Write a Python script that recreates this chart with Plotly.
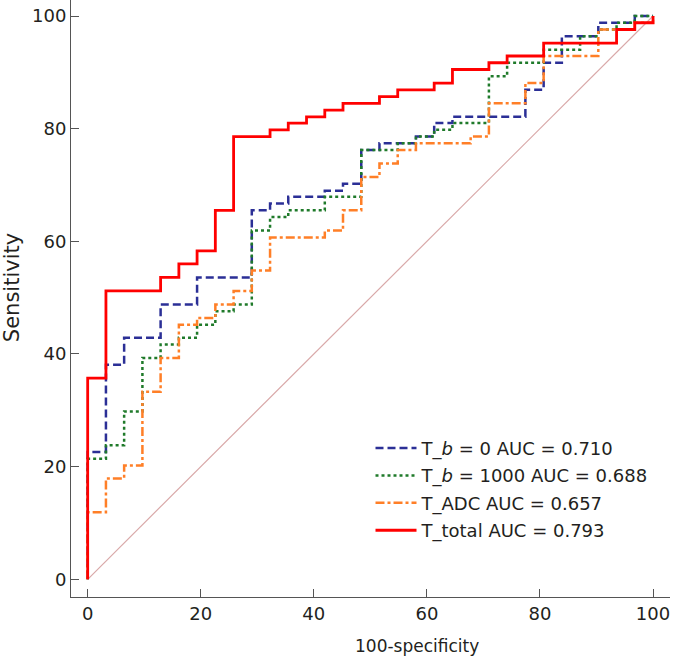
import plotly.graph_objects as go

# ---- data (100-specificity, sensitivity), step corners ----
fpr_b0 = [0, 0, 3.23, 6.45, 12.90, 19.35, 29.03, 32.26, 35.48, 41.94, 45.16, 48.39, 51.61,
          58.06, 61.29, 64.52, 77.42, 80.65, 83.87, 90.32, 96.77, 100]
tpr_b0 = [0, 22.6, 38.1, 42.9, 48.8, 53.6, 65.5, 66.7, 67.9, 69.0, 70.2, 76.2, 77.4,
          78.6, 81.0, 82.1, 86.9, 91.7, 96.4, 98.8, 100, 100]

fpr_b1000 = [0, 0, 3.23, 6.45, 9.68, 12.90, 16.13, 19.35, 22.58, 25.81, 29.03, 32.26, 35.48,
             41.94, 48.39, 54.84, 58.06, 61.29, 64.52, 70.97, 74.19, 80.65, 87.10, 90.32,
             93.55, 96.77, 100]
tpr_b1000 = [0, 21.4, 23.8, 29.8, 39.3, 41.7, 42.9, 45.2, 47.6, 48.8, 61.9, 64.3, 65.5,
             67.9, 76.2, 77.4, 78.6, 79.8, 81.0, 89.3, 91.7, 94.0, 96.4, 97.6,
             98.8, 100, 100]

fpr_adc = [0, 0, 3.23, 6.45, 9.68, 12.90, 16.13, 19.35, 22.58, 25.81, 29.03, 32.26, 41.94,
           45.16, 48.39, 51.61, 54.84, 58.06, 67.74, 70.97, 77.42, 80.65, 90.32, 96.77, 100]
tpr_adc = [0, 11.9, 17.9, 20.2, 33.3, 39.3, 45.2, 46.4, 48.8, 51.2, 54.8, 60.7, 61.9,
           65.5, 71.4, 73.8, 76.2, 77.4, 78.6, 84.5, 88.1, 92.9, 97.6, 98.8, 100]

fpr_total = [0, 0, 3.23, 12.90, 16.13, 19.35, 22.58, 25.81, 32.26, 35.48, 38.71, 41.94, 45.16,
             51.61, 54.84, 61.29, 64.52, 70.97, 74.19, 80.65, 93.55, 96.77, 100]
tpr_total = [0, 35.7, 51.2, 53.6, 56.0, 58.3, 65.5, 78.6, 79.8, 81.0, 82.1, 83.3, 84.5,
             85.7, 86.9, 88.1, 90.5, 91.7, 92.9, 95.2, 97.6, 98.8, 100]

diag = [0, 100]
tick_vals = [0, 20, 40, 60, 80, 100]

names = ["T_<i>b</i> = 0 AUC = 0.710", "T_<i>b</i> = 1000 AUC = 0.688",
         "T_ADC AUC = 0.657", "T_total AUC = 0.793"]
colors = ["#2b2f96", "#1f7a2a", "#ff7f27", "#ff0000"]
dashes = ["8px,4px", "dot", "dashdot", "solid"]
widths = [2.5, 2.5, 2.5, 2.8]
xs = [fpr_b0, fpr_b1000, fpr_adc, fpr_total]
ys = [tpr_b0, tpr_b1000, tpr_adc, tpr_total]

FONT = "DejaVu Sans"
TXT = "#231f20"

fig = go.Figure()
fig.add_trace(go.Scatter(x=diag, y=diag, mode="lines", showlegend=False,
                         line=dict(color="#d9a9a9", width=1.2), hoverinfo="skip"))
for i in range(4):
    fig.add_trace(go.Scatter(x=xs[i], y=ys[i], mode="lines", name=names[i],
                             line=dict(color=colors[i], width=widths[i], dash=dashes[i], shape="hv"),
                             legendgroup=f"g{i}"))

fig.update_layout(
    width=685, height=660,
    margin=dict(l=71, r=15, t=0, b=63, autoexpand=False),
    paper_bgcolor="white", plot_bgcolor="white",
    font=dict(family=FONT, size=17, color=TXT),
    showlegend=True,
    legend=dict(x=0.50, y=0.280, xanchor="left", yanchor="top",
                bgcolor="rgba(0,0,0,0)", font=dict(size=18, family=FONT, color=TXT),
                tracegroupgap=1, itemwidth=41),
    xaxis=dict(range=[-2.95, 103.0], tickvals=tick_vals, automargin=False,
               showgrid=False, zeroline=False, showline=True, linecolor="#555555", linewidth=1,
               ticks="inside", ticklen=8, tickcolor="#555555",
               tickfont=dict(size=18, family=FONT, color=TXT)),
    yaxis=dict(range=[-3.14, 102.84], tickvals=tick_vals, automargin=False,
               showgrid=False, zeroline=False, showline=True, linecolor="#555555", linewidth=1,
               ticks="inside", ticklen=8, tickcolor="#555555",
               tickfont=dict(size=18, family=FONT, color=TXT)),
    annotations=[
        dict(text="Sensitivity", xref="paper", yref="paper", x=-0.0985, y=0.519,
             textangle=-90, showarrow=False, font=dict(size=21, family=FONT, color=TXT),
             xanchor="center", yanchor="middle"),
        dict(text="100-specificity", xref="paper", yref="paper", x=0.578, y=-0.082,
             showarrow=False, font=dict(size=17, family=FONT, color=TXT),
             xanchor="center", yanchor="middle"),
    ],
)

fig.write_html("out.html", config={"displayModeBar": False},
               post_script="document.body.style.margin='0';")
